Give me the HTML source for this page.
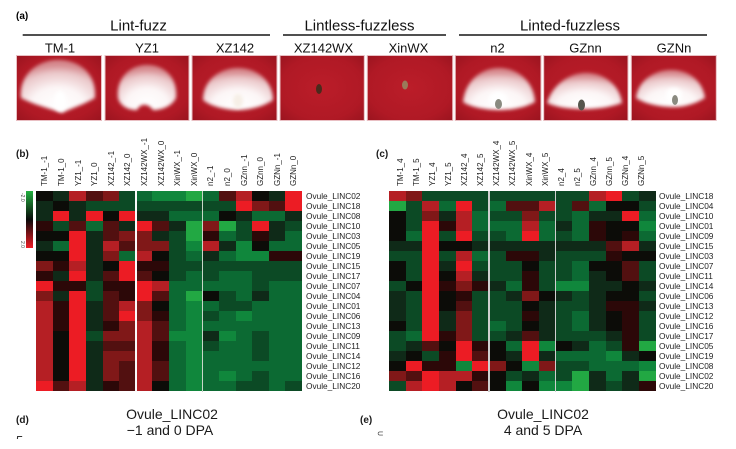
<!DOCTYPE html>
<html><head><meta charset="utf-8">
<style>
*{margin:0;padding:0;box-sizing:border-box}
body{width:736px;height:449px;background:#fff;position:relative;overflow:hidden;font-family:"Liberation Sans",Arial,sans-serif;color:#1a1a1a}
.hm{position:absolute;display:grid;grid-template-columns:repeat(16,1fr);grid-auto-rows:10px}
.hm i{display:block}
.R{background:#ec1c24}.r{background:#b51f24}.m{background:#801818}.d{background:#521010}.e{background:#2c0808}
.k{background:#0c0c08}.h{background:#0f2a18}.g{background:#0c4a25}.n{background:#0c6a33}.f{background:#10873c}.G{background:#22a843}
.sep{position:absolute;top:191px;height:201px;width:1.5px;background:#e6ece6}
.cl{position:absolute;top:186px;font-size:8px;line-height:9px;white-space:nowrap;transform-origin:0 0;transform:rotate(-90deg);color:#222}
.rl{position:absolute;font-size:8.3px;line-height:10px;white-space:nowrap;color:#222}
.pl{position:absolute;font-weight:bold;font-size:10px;line-height:10px}
.tt{position:absolute;font-size:14px;line-height:15px;text-align:center;width:140px}
</style></head><body>

<svg width="736" height="125" style="position:absolute;left:0;top:0" xmlns="http://www.w3.org/2000/svg">
<defs>
<radialGradient id="red" cx="50%" cy="50%" r="70%"><stop offset="0" stop-color="#bb1d29"/><stop offset="0.7" stop-color="#b01925"/><stop offset="1" stop-color="#9a141f"/></radialGradient>
<radialGradient id="fw" cx="50%" cy="88%" r="80%"><stop offset="0" stop-color="#fff" stop-opacity="1"/><stop offset="0.45" stop-color="#fff" stop-opacity="0.96"/><stop offset="0.8" stop-color="#f6eded" stop-opacity="0.82"/><stop offset="1" stop-color="#eccfcf" stop-opacity="0.6"/></radialGradient>
<filter id="bl" x="-30%" y="-30%" width="160%" height="160%"><feGaussianBlur stdDeviation="1.8"/></filter>
<filter id="bl2" x="-50%" y="-50%" width="200%" height="200%"><feGaussianBlur stdDeviation="2.5"/></filter>
</defs>
<text x="16" y="19" font-size="10" font-weight="bold" font-family="Liberation Sans, Arial, sans-serif">(a)</text>
<g font-family="Liberation Sans, Arial, sans-serif" font-size="15" text-anchor="middle" fill="#111">
<text x="138.5" y="30.5">Lint-fuzz</text>
<text x="359.5" y="30.5">Lintless-fuzzless</text>
<text x="570" y="30.5">Linted-fuzzless</text>
</g>
<g stroke="#505050" stroke-width="2">
<line x1="22.7" y1="35" x2="270" y2="35"/>
<line x1="283" y1="35" x2="446" y2="35"/>
<line x1="459" y1="35" x2="707" y2="35"/>
</g>
<g font-family="Liberation Sans, Arial, sans-serif" font-size="13" text-anchor="middle" fill="#111">
<text x="60" y="52.7">TM-1</text>
<text x="147" y="52.7">YZ1</text>
<text x="235" y="52.7">XZ142</text>
<text x="323.5" y="52.7">XZ142WX</text>
<text x="408.5" y="52.7">XinWX</text>
<text x="497.5" y="52.7">n2</text>
<text x="585.5" y="52.7">GZnn</text>
<text x="674" y="52.7">GZNn</text>
</g>
<g stroke="#e9bfc3" stroke-width="1" fill="url(#red)">
<rect x="16.5" y="55.5" width="85" height="65"/>
<rect x="105" y="55.5" width="84" height="65"/>
<rect x="192" y="55.5" width="85" height="65"/>
<rect x="280" y="55.5" width="84.3" height="65"/>
<rect x="367.3" y="55.5" width="85.4" height="65"/>
<rect x="455.3" y="55.5" width="85.7" height="65"/>
<rect x="543.7" y="55.5" width="84.3" height="65"/>
<rect x="631.3" y="55.5" width="85" height="65"/>
</g>
<g filter="url(#bl)" fill="url(#fw)">
<path d="M21,98 C19,74 38,60 58,60 C80,60 97,74 95,98 C85,104 72,108 62,113 C48,108 32,104 21,98 Z"/>
<path d="M118,98 C116,78 130,65 147,65 C165,65 178,78 176,98 C172,106 162,110 153,110 C149,104 141,102 137,110 C128,110 120,106 118,98 Z"/>
<path d="M203,100 C203,80 220,68 238,68 C258,68 273,82 273,100 C265,106 250,110 238,110 C225,110 210,106 203,100 Z"/>
<path d="M463,102 C465,82 480,68 499,68 C518,68 534,82 535,102 C525,108 510,110 500,110 C488,110 472,108 463,102 Z"/>
<path d="M547,103 C552,86 568,73 586,73 C605,73 620,86 622,103 C608,108 595,109 584,109 C572,109 558,108 547,103 Z"/>
<path d="M636,98 C638,80 655,70 671,70 C690,70 703,82 705,98 C695,104 684,107 674,107 C660,107 645,104 636,98 Z"/>
</g>
<g filter="url(#bl)">
<ellipse cx="60" cy="101" rx="6" ry="10" fill="#fff"/>
<ellipse cx="238" cy="101" rx="5" ry="7" fill="#f6efe6"/>
<ellipse cx="498" cy="99" rx="9" ry="7" fill="#fff"/>
<ellipse cx="674" cy="95" rx="8" ry="7" fill="#fff"/>
</g>
<ellipse cx="498.5" cy="104" rx="3.5" ry="5" fill="#8a8a80"/>
<ellipse cx="581.5" cy="105" rx="3.5" ry="5.5" fill="#55554c"/>
<ellipse cx="675" cy="100" rx="3" ry="5" fill="#8a8a80"/>
<ellipse cx="319" cy="89" rx="3" ry="5" fill="#4a2a1c"/>
<ellipse cx="405" cy="85" rx="3" ry="4.5" fill="#9a7a5a"/>
</svg>

<!-- panel b -->
<div class="pl" style="left:16px;top:150px">(b)</div>
<div style="position:absolute;left:26px;top:191px;width:7px;height:57px;background:linear-gradient(to bottom,#22b040,#0a0a0a 50%,#ee1c24)"></div>
<div style="position:absolute;left:23.5px;top:193px;font-size:5px;line-height:5px;transform-origin:0 0;transform:rotate(90deg);color:#444">-2.0</div>
<div style="position:absolute;left:23.5px;top:241px;font-size:5px;line-height:5px;transform-origin:0 0;transform:rotate(90deg);color:#444">2.0</div>

<div class="cl" style="left:40.3px">TM-1_-1</div>
<div class="cl" style="left:56.9px">TM-1_0</div>
<div class="cl" style="left:73.5px">YZ1_-1</div>
<div class="cl" style="left:90.1px">YZ1_0</div>
<div class="cl" style="left:106.7px">XZ142_-1</div>
<div class="cl" style="left:123.4px">XZ142_0</div>
<div class="cl" style="left:140px">XZ142WX_-1</div>
<div class="cl" style="left:156.6px">XZ142WX_0</div>
<div class="cl" style="left:173.2px">XinWX_-1</div>
<div class="cl" style="left:189.8px">XinWX_0</div>
<div class="cl" style="left:206.4px">n2_-1</div>
<div class="cl" style="left:223px">n2_0</div>
<div class="cl" style="left:239.6px">GZnn_-1</div>
<div class="cl" style="left:256.2px">GZnn_0</div>
<div class="cl" style="left:272.8px">GZNn_-1</div>
<div class="cl" style="left:289.4px">GZNn_0</div>

<div class="hm" style="left:36px;top:191px;width:266px">
<i class=k></i><i class=h></i><i class=r></i><i class=d></i><i class=m></i><i class=g></i><i class=n></i><i class=f></i><i class=f></i><i class=G></i><i class=n></i><i class=d></i><i class=r></i><i class=k></i><i class=h></i><i class=R></i>
<i class=h></i><i class=k></i><i class=h></i><i class=g></i><i class=g></i><i class=g></i><i class=g></i><i class=g></i><i class=g></i><i class=g></i><i class=g></i><i class=g></i><i class=R></i><i class=m></i><i class=d></i><i class=R></i>
<i class=h></i><i class=R></i><i class=h></i><i class=R></i><i class=k></i><i class=R></i><i class=h></i><i class=h></i><i class=n></i><i class=n></i><i class=n></i><i class=k></i><i class=h></i><i class=n></i><i class=n></i><i class=h></i>
<i class=e></i><i class=g></i><i class=d></i><i class=n></i><i class=d></i><i class=h></i><i class=R></i><i class=d></i><i class=h></i><i class=G></i><i class=m></i><i class=G></i><i class=g></i><i class=R></i><i class=h></i><i class=g></i>
<i class=k></i><i class=k></i><i class=R></i><i class=h></i><i class=d></i><i class=m></i><i class=m></i><i class=h></i><i class=g></i><i class=G></i><i class=e></i><i class=n></i><i class=g></i><i class=e></i><i class=h></i><i class=n></i>
<i class=h></i><i class=n></i><i class=R></i><i class=h></i><i class=r></i><i class=d></i><i class=m></i><i class=m></i><i class=g></i><i class=f></i><i class=r></i><i class=h></i><i class=f></i><i class=k></i><i class=n></i><i class=n></i>
<i class=k></i><i class=k></i><i class=R></i><i class=h></i><i class=m></i><i class=n></i><i class=r></i><i class=k></i><i class=g></i><i class=n></i><i class=h></i><i class=n></i><i class=f></i><i class=f></i><i class=e></i><i class=e></i>
<i class=m></i><i class=e></i><i class=r></i><i class=h></i><i class=k></i><i class=R></i><i class=e></i><i class=e></i><i class=g></i><i class=g></i><i class=g></i><i class=g></i><i class=g></i><i class=g></i><i class=g></i><i class=g></i>
<i class=e></i><i class=h></i><i class=R></i><i class=h></i><i class=d></i><i class=R></i><i class=d></i><i class=k></i><i class=g></i><i class=n></i><i class=g></i><i class=n></i><i class=n></i><i class=g></i><i class=g></i><i class=g></i>
<i class=R></i><i class=e></i><i class=e></i><i class=g></i><i class=e></i><i class=e></i><i class=R></i><i class=r></i><i class=n></i><i class=n></i><i class=n></i><i class=n></i><i class=n></i><i class=g></i><i class=n></i><i class=n></i>
<i class=m></i><i class=h></i><i class=R></i><i class=g></i><i class=d></i><i class=e></i><i class=R></i><i class=d></i><i class=n></i><i class=G></i><i class=k></i><i class=g></i><i class=n></i><i class=h></i><i class=n></i><i class=n></i>
<i class=r></i><i class=e></i><i class=R></i><i class=h></i><i class=d></i><i class=r></i><i class=m></i><i class=k></i><i class=n></i><i class=f></i><i class=n></i><i class=g></i><i class=g></i><i class=n></i><i class=n></i><i class=n></i>
<i class=r></i><i class=e></i><i class=R></i><i class=h></i><i class=d></i><i class=R></i><i class=m></i><i class=e></i><i class=n></i><i class=f></i><i class=g></i><i class=n></i><i class=f></i><i class=n></i><i class=n></i><i class=n></i>
<i class=r></i><i class=e></i><i class=R></i><i class=h></i><i class=e></i><i class=m></i><i class=r></i><i class=d></i><i class=n></i><i class=f></i><i class=n></i><i class=n></i><i class=n></i><i class=n></i><i class=n></i><i class=n></i>
<i class=r></i><i class=k></i><i class=R></i><i class=g></i><i class=m></i><i class=m></i><i class=r></i><i class=d></i><i class=f></i><i class=f></i><i class=h></i><i class=f></i><i class=n></i><i class=g></i><i class=n></i><i class=n></i>
<i class=r></i><i class=k></i><i class=R></i><i class=h></i><i class=d></i><i class=d></i><i class=r></i><i class=e></i><i class=n></i><i class=f></i><i class=g></i><i class=n></i><i class=n></i><i class=g></i><i class=n></i><i class=n></i>
<i class=r></i><i class=k></i><i class=R></i><i class=h></i><i class=m></i><i class=m></i><i class=r></i><i class=e></i><i class=n></i><i class=f></i><i class=n></i><i class=n></i><i class=n></i><i class=g></i><i class=n></i><i class=n></i>
<i class=r></i><i class=k></i><i class=R></i><i class=h></i><i class=m></i><i class=d></i><i class=r></i><i class=d></i><i class=n></i><i class=f></i><i class=n></i><i class=n></i><i class=n></i><i class=n></i><i class=n></i><i class=n></i>
<i class=r></i><i class=k></i><i class=R></i><i class=h></i><i class=m></i><i class=d></i><i class=r></i><i class=d></i><i class=n></i><i class=f></i><i class=n></i><i class=f></i><i class=n></i><i class=g></i><i class=n></i><i class=n></i>
<i class=R></i><i class=d></i><i class=r></i><i class=h></i><i class=e></i><i class=d></i><i class=r></i><i class=k></i><i class=n></i><i class=f></i><i class=n></i><i class=n></i><i class=g></i><i class=g></i><i class=n></i><i class=g></i>
</div>
<div class="sep" style="left:135px;background:#fafafa"></div>
<div class="sep" style="left:201.5px;background:#c8d6c8"></div>

<div class="rl" style="left:306px;top:191px">Ovule_LINC02</div>
<div class="rl" style="left:306px;top:201px">Ovule_LINC18</div>
<div class="rl" style="left:306px;top:211px">Ovule_LINC08</div>
<div class="rl" style="left:306px;top:221px">Ovule_LINC10</div>
<div class="rl" style="left:306px;top:231px">Ovule_LINC03</div>
<div class="rl" style="left:306px;top:241px">Ovule_LINC05</div>
<div class="rl" style="left:306px;top:251px">Ovule_LINC19</div>
<div class="rl" style="left:306px;top:261px">Ovule_LINC15</div>
<div class="rl" style="left:306px;top:271px">Ovule_LINC17</div>
<div class="rl" style="left:306px;top:281px">Ovule_LINC07</div>
<div class="rl" style="left:306px;top:291px">Ovule_LINC04</div>
<div class="rl" style="left:306px;top:301px">Ovule_LINC01</div>
<div class="rl" style="left:306px;top:311px">Ovule_LINC06</div>
<div class="rl" style="left:306px;top:321px">Ovule_LINC13</div>
<div class="rl" style="left:306px;top:331px">Ovule_LINC09</div>
<div class="rl" style="left:306px;top:341px">Ovule_LINC11</div>
<div class="rl" style="left:306px;top:351px">Ovule_LINC14</div>
<div class="rl" style="left:306px;top:361px">Ovule_LINC12</div>
<div class="rl" style="left:306px;top:371px">Ovule_LINC16</div>
<div class="rl" style="left:306px;top:381px">Ovule_LINC20</div>

<!-- panel c -->
<div class="pl" style="left:376px;top:150px">(c)</div>
<div class="cl" style="left:395.5px">TM-1_4</div>
<div class="cl" style="left:411.6px">TM-1_5</div>
<div class="cl" style="left:427.8px">YZ1_4</div>
<div class="cl" style="left:443.9px">YZ1_5</div>
<div class="cl" style="left:460px">XZ142_4</div>
<div class="cl" style="left:476.1px">XZ142_5</div>
<div class="cl" style="left:492.2px">XZ142WX_4</div>
<div class="cl" style="left:508.3px">XZ142WX_5</div>
<div class="cl" style="left:524.5px">XinWX_4</div>
<div class="cl" style="left:540.6px">XinWX_5</div>
<div class="cl" style="left:556.7px">n2_4</div>
<div class="cl" style="left:572.8px">n2_5</div>
<div class="cl" style="left:588.9px">GZnn_4</div>
<div class="cl" style="left:605px">GZnn_5</div>
<div class="cl" style="left:621.2px">GZNn_4</div>
<div class="cl" style="left:637.3px">GZNn_5</div>

<div class="hm" style="left:389px;top:191px;width:266.5px">
<i class=r></i><i class=m></i><i class=g></i><i class=g></i><i class=g></i><i class=g></i><i class=g></i><i class=g></i><i class=g></i><i class=g></i><i class=g></i><i class=g></i><i class=r></i><i class=R></i><i class=g></i><i class=h></i>
<i class=G></i><i class=g></i><i class=r></i><i class=n></i><i class=R></i><i class=g></i><i class=n></i><i class=d></i><i class=d></i><i class=r></i><i class=g></i><i class=d></i><i class=n></i><i class=k></i><i class=k></i><i class=g></i>
<i class=k></i><i class=g></i><i class=m></i><i class=h></i><i class=r></i><i class=n></i><i class=g></i><i class=g></i><i class=m></i><i class=g></i><i class=g></i><i class=n></i><i class=h></i><i class=h></i><i class=R></i><i class=n></i>
<i class=k></i><i class=g></i><i class=R></i><i class=e></i><i class=r></i><i class=n></i><i class=n></i><i class=n></i><i class=r></i><i class=n></i><i class=h></i><i class=n></i><i class=e></i><i class=k></i><i class=k></i><i class=f></i>
<i class=k></i><i class=n></i><i class=R></i><i class=g></i><i class=R></i><i class=g></i><i class=g></i><i class=n></i><i class=R></i><i class=n></i><i class=g></i><i class=n></i><i class=e></i><i class=k></i><i class=e></i><i class=n></i>
<i class=h></i><i class=h></i><i class=R></i><i class=k></i><i class=k></i><i class=h></i><i class=h></i><i class=h></i><i class=h></i><i class=h></i><i class=h></i><i class=h></i><i class=h></i><i class=d></i><i class=r></i><i class=h></i>
<i class=g></i><i class=g></i><i class=R></i><i class=g></i><i class=r></i><i class=n></i><i class=g></i><i class=e></i><i class=e></i><i class=h></i><i class=g></i><i class=g></i><i class=g></i><i class=e></i><i class=k></i><i class=k></i>
<i class=k></i><i class=g></i><i class=R></i><i class=h></i><i class=R></i><i class=g></i><i class=g></i><i class=g></i><i class=k></i><i class=g></i><i class=g></i><i class=n></i><i class=k></i><i class=k></i><i class=d></i><i class=g></i>
<i class=k></i><i class=g></i><i class=R></i><i class=k></i><i class=r></i><i class=h></i><i class=g></i><i class=g></i><i class=e></i><i class=g></i><i class=g></i><i class=n></i><i class=h></i><i class=k></i><i class=d></i><i class=g></i>
<i class=g></i><i class=k></i><i class=R></i><i class=e></i><i class=m></i><i class=e></i><i class=h></i><i class=n></i><i class=e></i><i class=g></i><i class=f></i><i class=f></i><i class=h></i><i class=h></i><i class=k></i><i class=h></i>
<i class=h></i><i class=g></i><i class=R></i><i class=k></i><i class=e></i><i class=g></i><i class=g></i><i class=h></i><i class=m></i><i class=k></i><i class=h></i><i class=g></i><i class=h></i><i class=k></i><i class=k></i><i class=g></i>
<i class=h></i><i class=g></i><i class=R></i><i class=k></i><i class=d></i><i class=g></i><i class=g></i><i class=g></i><i class=k></i><i class=h></i><i class=g></i><i class=g></i><i class=h></i><i class=e></i><i class=e></i><i class=h></i>
<i class=h></i><i class=g></i><i class=R></i><i class=h></i><i class=m></i><i class=g></i><i class=g></i><i class=g></i><i class=e></i><i class=h></i><i class=g></i><i class=n></i><i class=h></i><i class=k></i><i class=e></i><i class=g></i>
<i class=k></i><i class=g></i><i class=R></i><i class=h></i><i class=m></i><i class=g></i><i class=n></i><i class=g></i><i class=k></i><i class=h></i><i class=g></i><i class=n></i><i class=h></i><i class=k></i><i class=e></i><i class=g></i>
<i class=g></i><i class=n></i><i class=R></i><i class=e></i><i class=m></i><i class=g></i><i class=g></i><i class=h></i><i class=d></i><i class=h></i><i class=g></i><i class=g></i><i class=g></i><i class=h></i><i class=e></i><i class=g></i>
<i class=g></i><i class=h></i><i class=d></i><i class=k></i><i class=R></i><i class=e></i><i class=k></i><i class=n></i><i class=R></i><i class=f></i><i class=k></i><i class=h></i><i class=n></i><i class=g></i><i class=e></i><i class=G></i>
<i class=h></i><i class=k></i><i class=g></i><i class=e></i><i class=R></i><i class=d></i><i class=k></i><i class=h></i><i class=R></i><i class=h></i><i class=n></i><i class=n></i><i class=n></i><i class=f></i><i class=h></i><i class=k></i>
<i class=k></i><i class=R></i><i class=e></i><i class=e></i><i class=f></i><i class=R></i><i class=m></i><i class=k></i><i class=f></i><i class=m></i><i class=g></i><i class=g></i><i class=n></i><i class=n></i><i class=n></i><i class=f></i>
<i class=m></i><i class=d></i><i class=R></i><i class=r></i><i class=r></i><i class=e></i><i class=k></i><i class=g></i><i class=h></i><i class=n></i><i class=g></i><i class=G></i><i class=h></i><i class=n></i><i class=h></i><i class=G></i>
<i class=g></i><i class=r></i><i class=R></i><i class=r></i><i class=k></i><i class=d></i><i class=k></i><i class=f></i><i class=k></i><i class=f></i><i class=f></i><i class=G></i><i class=h></i><i class=g></i><i class=h></i><i class=e></i>
</div>
<div class="sep" style="left:488.3px;background:#cfcfcf"></div>
<div class="sep" style="left:554.8px;background:#cfcfcf"></div>

<div class="rl" style="left:659px;top:191px">Ovule_LINC18</div>
<div class="rl" style="left:659px;top:201px">Ovule_LINC04</div>
<div class="rl" style="left:659px;top:211px">Ovule_LINC10</div>
<div class="rl" style="left:659px;top:221px">Ovule_LINC01</div>
<div class="rl" style="left:659px;top:231px">Ovule_LINC09</div>
<div class="rl" style="left:659px;top:241px">Ovule_LINC15</div>
<div class="rl" style="left:659px;top:251px">Ovule_LINC03</div>
<div class="rl" style="left:659px;top:261px">Ovule_LINC07</div>
<div class="rl" style="left:659px;top:271px">Ovule_LINC11</div>
<div class="rl" style="left:659px;top:281px">Ovule_LINC14</div>
<div class="rl" style="left:659px;top:291px">Ovule_LINC06</div>
<div class="rl" style="left:659px;top:301px">Ovule_LINC13</div>
<div class="rl" style="left:659px;top:311px">Ovule_LINC12</div>
<div class="rl" style="left:659px;top:321px">Ovule_LINC16</div>
<div class="rl" style="left:659px;top:331px">Ovule_LINC17</div>
<div class="rl" style="left:659px;top:341px">Ovule_LINC05</div>
<div class="rl" style="left:659px;top:351px">Ovule_LINC19</div>
<div class="rl" style="left:659px;top:361px">Ovule_LINC08</div>
<div class="rl" style="left:659px;top:371px">Ovule_LINC02</div>
<div class="rl" style="left:659px;top:381px">Ovule_LINC20</div>

<!-- panels d / e -->
<div class="pl" style="left:16px;top:416px">(d)</div>
<div class="tt" style="left:102px;top:407px">Ovule_LINC02</div>
<div class="tt" style="left:100px;top:423px">&minus;1 and 0 DPA</div>
<div style="position:absolute;left:16px;top:434px;width:8px;height:5px;overflow:hidden"><div style="font-size:13px;line-height:13px;color:#333">5</div></div>

<div class="pl" style="left:360px;top:416px">(e)</div>
<div class="tt" style="left:473px;top:407px">Ovule_LINC02</div>
<div class="tt" style="left:473px;top:423px">4 and 5 DPA</div>
<div style="position:absolute;left:377px;top:431px;width:7px;height:5px;overflow:hidden"><div style="font-size:8px;line-height:5px;color:#333">&sub;</div></div>

</body></html>
